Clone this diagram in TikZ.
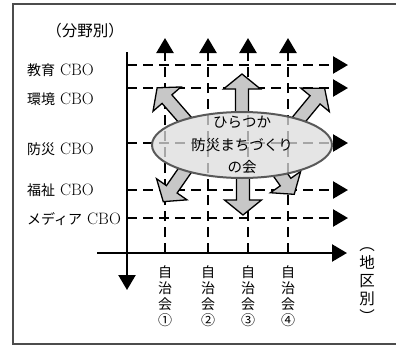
\documentclass[tikz,border=0pt]{standalone}
\usepackage{fontspec}
\newfontfamily\jp{Noto Sans CJK JP}
\usetikzlibrary{arrows.meta}
\newcommand\blockarr[4]{\draw[bigarrow,shift={(#1,#2)},rotate=#3] (0,-6.5) -- (#4-15,-6.5) -- (#4-15,-18.5) -- (#4,0) -- (#4-15,18.5) -- (#4-15,6.5) -- (0,6.5) -- cycle;}
\begin{document}
\begin{tikzpicture}[x=1bp,y=-1bp,>={Triangle[length=15bp,width=17bp]},
  axis/.style={line width=2.4bp},
  grid/.style={line width=2.4bp,dash pattern=on 10bp off 6bp},
  bigarrow/.style={draw,line width=1.3bp,fill=black!22,line join=miter},
  lab/.style={anchor=west,inner sep=0pt,font=\fontsize{16.5bp}{18bp}\selectfont},
  col/.style={align=center,inner sep=0pt,font=\jp\fontsize{14bp}{16bp}\selectfont}]
\useasboundingbox (0,0) rectangle (396,345);
\draw[line width=1.5bp,black!70] (396,4) -- (13,4) -- (13,344) -- (396,344);

% 軸
\coordinate (yb) at (127,52); \coordinate (ye) at (127,290);
\coordinate (xb) at (97,253); \coordinate (xe) at (347,253);
\draw[axis,->] (yb) -- (ye);
\draw[axis,->] (xb) -- (xe);

% 分野
\coordinate (r1) at (127,65);  \coordinate (r1e) at (348,65);
\coordinate (r2) at (127,88);  \coordinate (r2e) at (348,88);
\coordinate (r3) at (127,143); \coordinate (r3e) at (348,143);
\coordinate (r4) at (127,190); \coordinate (r4e) at (348,190);
\coordinate (r5) at (127,218); \coordinate (r5e) at (348,218);
% 地区
\coordinate (c1) at (165,253); \coordinate (c1e) at (165,38);
\coordinate (c2) at (208,253); \coordinate (c2e) at (208,38);
\coordinate (c3) at (248,253); \coordinate (c3e) at (248,38);
\coordinate (c4) at (288,253); \coordinate (c4e) at (288,38);

\draw[grid,->] (r1) -- (r1e);
\draw[grid,->] (r2) -- (r2e);
\draw[grid,->] (r3) -- (r3e);
\draw[grid,->] (r4) -- (r4e);
\draw[grid,->] (r5) -- (r5e);
\draw[grid,->] (c1) -- (c1e);
\draw[grid,->] (c2) -- (c2e);
\draw[grid,->] (c3) -- (c3e);
\draw[grid,->] (c4) -- (c4e);

% 矢印
\blockarr{242}{120}{90}{46}
\blockarr{243}{170}{-90}{45}
\blockarr{186}{121}{131}{44}
\blockarr{296}{123}{50.5}{45}
\blockarr{190}{163}{-124.7}{47}
\blockarr{270}{160}{-54.8}{42}

% 会
\coordinate (e) at (242,145);
\fill[black!10] (e) ellipse [x radius=90, y radius=33];
\begin{scope}
\clip (e) ellipse [x radius=90, y radius=33];
\draw[grid,black!35] (r3) -- (r3e);
\draw[grid,black!35] (c1) -- (c1e);
\draw[grid,black!35] (c2) -- (c2e);
\draw[grid,black!35] (c3) -- (c3e);
\draw[grid,black!35] (c4) -- (c4e);
\end{scope}
\draw[black!65,line width=2bp] (e) ellipse [x radius=90, y radius=33];
\node[align=center,inner sep=0pt,font=\jp\fontsize{14.5bp}{22.5bp}\selectfont] (kai) at (e) {ひらつか\\防災まちづくり\\の会};

\node[font=\jp\fontsize{15.5bp}{18bp}\selectfont,inner sep=0pt] (bunya) at (85,31) {（分野別）};
\node[lab] (kyoiku) at (27,70) {{\jp\fontsize{14bp}{18bp}\selectfont 教育} CBO};
\node[lab] (kankyo) at (27,99) {{\jp\fontsize{14bp}{18bp}\selectfont 環境} CBO};
\node[lab] (bosai) at (27,149) {{\jp\fontsize{14bp}{18bp}\selectfont 防災} CBO};
\node[lab] (fukushi) at (27,190) {{\jp\fontsize{14bp}{18bp}\selectfont 福祉} CBO};
\node[lab] (media) at (27,219) {{\jp\fontsize{14bp}{18bp}\selectfont メディア} CBO};

\node[col] (j1) at (165,296) {自\\治\\会\\①};
\node[col] (j2) at (208,296) {自\\治\\会\\②};
\node[col] (j3) at (248,296) {自\\治\\会\\③};
\node[col] (j4) at (288,296) {自\\治\\会\\④};
\node[align=center,inner sep=0pt,font=\jp\fontsize{15.5bp}{18bp}\selectfont] (chiku) at (367,285) {︵\\地\\区\\別\\︶};

\end{tikzpicture}
\end{document}
